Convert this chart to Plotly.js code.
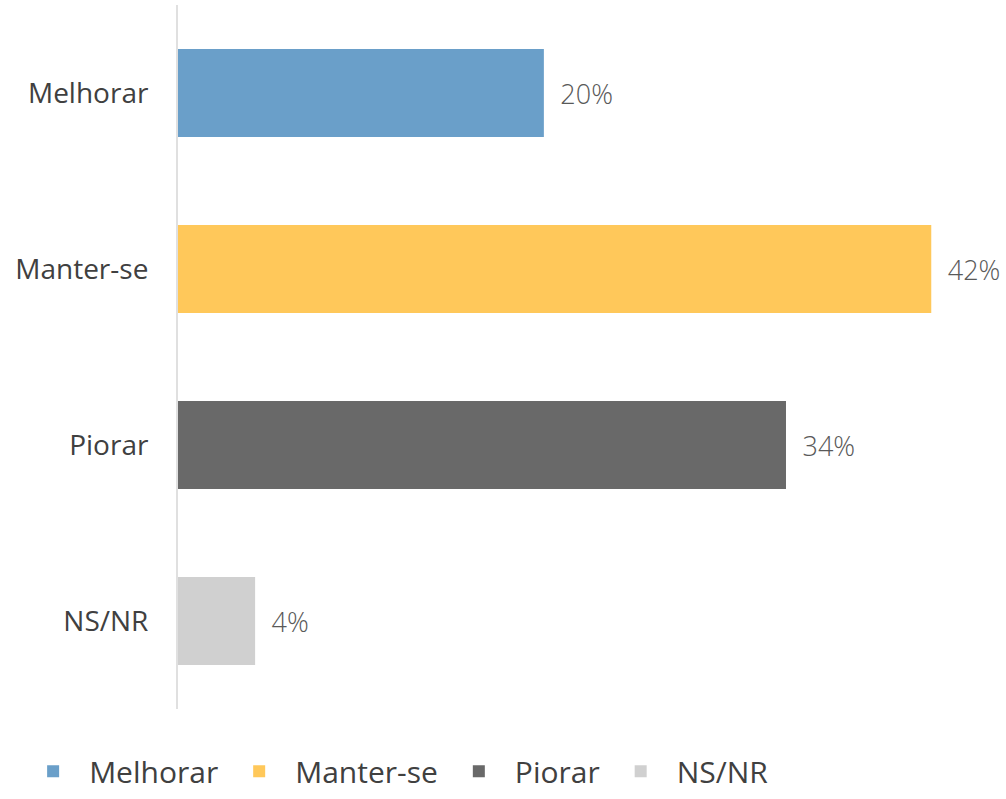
<!DOCTYPE html>
<html>
<head>
<meta charset="utf-8">
<script src="https://cdn.plot.ly/plotly-3.0.1.min.js"></script>
<style>html,body{margin:0;padding:0;background:#fff;}#chart{width:1006px;height:799px;}</style>
</head>
<body>
<div id="chart"></div>
<script>
const categories = ["Melhorar", "Manter-se", "Piorar", "NS/NR"];
const values = [20.4, 42.0, 33.9, 4.3];
const labels = ["20%", "42%", "34%", "4%"];
const colors = ["#6A9FC9", "#FFC85A", "#696969", "#D0D0D0"];

const traces = categories.map((c, i) => ({
  type: "bar",
  orientation: "h",
  name: c,
  y: [c],
  x: [values[i]],
  text: [labels[i]],
  texttemplate: "\u2002%{text}",
  textposition: "outside",
  cliponaxis: false,
  textfont: {family: "Open Sans, sans-serif", size: 27, color: "#595959", weight: 300},
  marker: {color: colors[i], line: {width: 0}},
  width: 0.5,
  hoverinfo: "skip"
}));

const layout = {
  width: 1006,
  height: 799,
  margin: {l: 178, r: 3, t: 5, b: 89},
  paper_bgcolor: "#ffffff",
  plot_bgcolor: "#ffffff",
  barmode: "overlay",
  showlegend: true,
  legend: {
    orientation: "h",
    x: -0.195, xanchor: "left",
    y: -0.05, yanchor: "top",
    font: {family: "Open Sans, sans-serif", size: 30, color: "#404040"},
    itemwidth: 62,
    traceorder: "normal"
  },
  xaxis: {
    range: [0, 46],
    showgrid: false,
    zeroline: false,
    showline: false,
    showticklabels: false,
    ticks: ""
  },
  yaxis: {
    categoryorder: "array",
    categoryarray: categories,
    autorange: "reversed",
    showgrid: false,
    zeroline: false,
    showline: true,
    linecolor: "#E0E0E0",
    linewidth: 2,
    ticks: "outside",
    ticklen: 22,
    tickcolor: "rgba(0,0,0,0)",
    tickfont: {family: "Open Sans, sans-serif", size: 28, color: "#404040"}
  }
};

Plotly.newPlot("chart", traces, layout, {displayModeBar: false, staticPlot: true});
</script>
</body>
</html>
